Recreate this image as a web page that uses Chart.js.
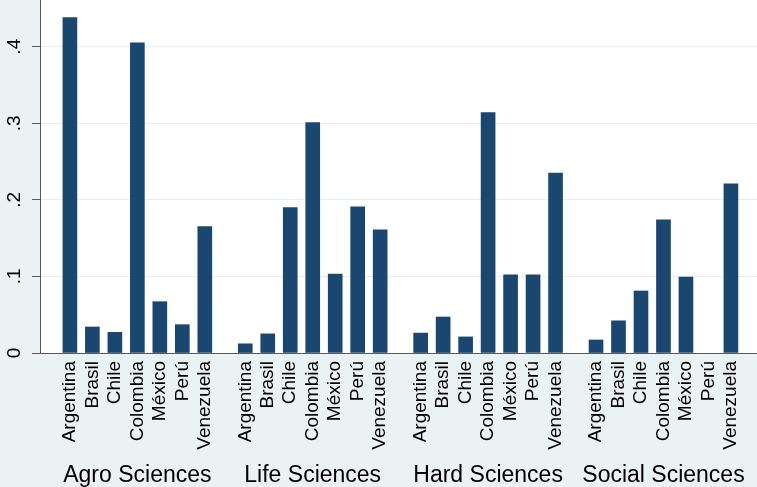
<!DOCTYPE html>
<html>
<head>
<meta charset="utf-8">
<script src="https://cdn.jsdelivr.net/npm/chart.js@4/dist/chart.umd.min.js"></script>
<style>
  body { margin: 0; background: #eaf2f3; }
  canvas { display: block; }
</style>
</head>
<body>
<canvas id="shareChart" width="757" height="487"></canvas>
<script>
const countries = ['Argentina', 'Brasil', 'Chile', 'Colombia', 'México', 'Perú', 'Venezuela'];
const fields = ['Agro Sciences', 'Life Sciences', 'Hard Sciences', 'Social Sciences'];

const agro = [0.438, 0.034, 0.027, 0.405, 0.067, 0.037, 0.165];
const life = [0.012, 0.025, 0.190, 0.301, 0.103, 0.191, 0.161];
const hard = [0.026, 0.047, 0.021, 0.314, 0.102, 0.102, 0.235];
const social = [0.017, 0.042, 0.081, 0.174, 0.099, null, 0.221];

const yTicks = [0, 0.1, 0.2, 0.3, 0.4];
const yTickLabels = ['0', '.1', '.2', '.3', '.4'];

// slot position of a bar: groups are 7.8 slots apart
const GROUP_STEP = 7.8;
const series = [agro, life, hard, social];
const points = [];
const countryPos = [];
series.forEach((vals, g) => {
    vals.forEach((v, i) => {
        const x = g * GROUP_STEP + i;
        countryPos.push(x);
        points.push({ x: x, y: v });
    });
});
const fieldPos = fields.map((f, g) => g * GROUP_STEP + 3);

const X_MIN = -1.33;
const X_MAX = 30.56;

const plotBg = {
    id: 'plotBg',
    beforeDraw(chart) {
        const { ctx, chartArea: a } = chart;
        ctx.save();
        ctx.fillStyle = '#eaf2f3';
        ctx.fillRect(0, 0, chart.width, chart.height);
        ctx.fillStyle = '#ffffff';
        ctx.fillRect(a.left, a.top, a.right - a.left, a.bottom - a.top);
        ctx.restore();
    }
};

// group names under the country labels
const fieldLabels = {
    id: 'fieldLabels',
    afterDraw(chart) {
        const { ctx } = chart;
        const xs = chart.scales.x;
        ctx.save();
        ctx.fillStyle = '#000';
        ctx.font = '23px "Liberation Sans"';
        ctx.textAlign = 'center';
        ctx.textBaseline = 'alphabetic';
        fields.forEach((name, g) => {
            ctx.fillText(name, xs.getPixelForValue(fieldPos[g]), 482);
        });
        ctx.restore();
    }
};

const config = {
    type: 'bar',
    data: {
        datasets: [{
            data: points,
            backgroundColor: '#1a476f',
            borderWidth: 0,
            barThickness: 14,
        }]
    },
    options: {
        responsive: false,
        animation: false,
        layout: { padding: { left: 0, right: 0, top: 0, bottom: 36 } },
        plugins: {
            legend: { display: false },
            tooltip: { enabled: false },
        },
        scales: {
            x: {
                type: 'linear',
                offset: false,
                min: X_MIN,
                max: X_MAX,
                afterBuildTicks: (s) => { s.ticks = countryPos.map(v => ({ value: v })); },
                afterFit: (s) => { s.height = 98; },
                grid: {
                    display: true,
                    drawOnChartArea: false,
                    drawTicks: true,
                    tickLength: 8,
                    tickColor: 'rgba(0,0,0,0)',
                    color: 'rgba(0,0,0,0)',
                },
                border: { display: true, color: '#5a5a5a', width: 1 },
                ticks: {
                    autoSkip: false,
                    minRotation: 90,
                    maxRotation: 90,
                    padding: 0,
                    color: '#000',
                    font: { family: 'Liberation Sans', size: 19 },
                    callback: (v, i) => countries[i % countries.length],
                },
            },
            y: {
                min: 0,
                max: 0.461,
                afterBuildTicks: (s) => { s.ticks = yTicks.map(v => ({ value: v })); },
                afterFit: (s) => {
                    s.width = 40;
                    s.paddingTop = 0;
                    s.paddingBottom = 0;
                },
                grid: {
                    color: (c) => (c.tick && c.tick.value === 0) ? 'rgba(0,0,0,0)' : '#e6eef1',
                    tickColor: '#5a5a5a',
                    tickLength: 8,
                },
                border: { display: true, color: '#5a5a5a', width: 1 },
                ticks: {
                    minRotation: 90,
                    maxRotation: 90,
                    crossAlign: 'center',
                    padding: 9,
                    color: '#000',
                    font: { family: 'Liberation Sans', size: 19 },
                    callback: (v, i) => yTickLabels[i],
                },
            },
        },
    },
    plugins: [plotBg, fieldLabels],
};

const shareChart = new Chart(
    document.getElementById('shareChart'),
    config
);
</script>
</body>
</html>
